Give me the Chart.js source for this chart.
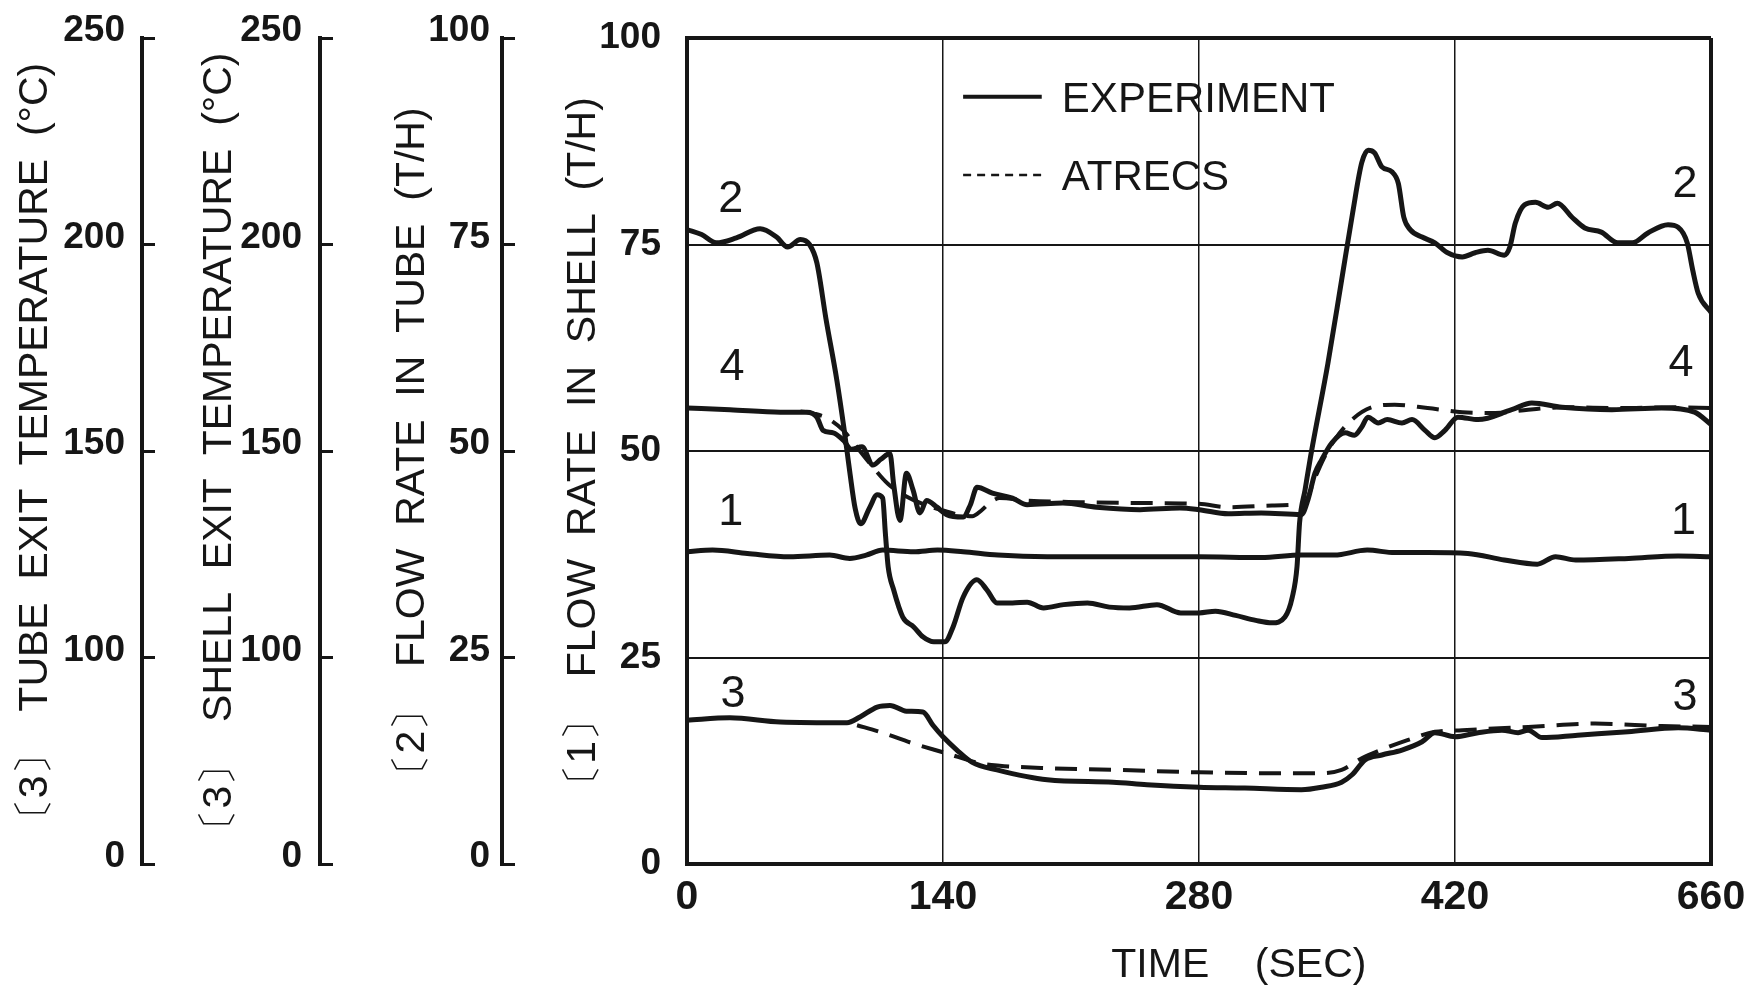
<!DOCTYPE html>
<html>
<head>
<meta charset="utf-8">
<title>Flow rate and exit temperature transient</title>
<script src="https://cdn.jsdelivr.net/npm/chart.js@4.4.0/dist/chart.umd.min.js"></script>
<style>
    body { margin: 0; background: #fff; }
    #wrap { width: 1762px; height: 993px; }
</style>
</head>
<body>
<div id="wrap"><canvas id="chart"></canvas></div>
<script>
/* =========================
   DATA  (time in axis units, values in axis position 0-100)
========================= */

const timeTicks = ["0", "140", "280", "420", "660"];
const flowTicks = ["0", "25", "50", "75", "100"];
const tempTicks = ["0", "100", "150", "200", "250"];

// 1 : flow rate in shell (experiment)
const shellFlowT = [0, 14, 33, 56, 78, 89, 98, 107, 124, 137, 151, 170, 197, 233, 280, 314, 336, 354, 372, 387, 405, 427, 447, 465, 475, 486, 515, 542, 560];
const shellFlow  = [37.8, 38, 37.6, 37.2, 37.4, 37, 37.4, 38, 37.8, 38, 37.8, 37.4, 37.2, 37.2, 37.2, 37.1, 37.4, 37.4, 38, 37.7, 37.7, 37.6, 36.8, 36.3, 37.2, 36.8, 37, 37.3, 37.2];

// 2 : flow rate in tube (experiment)
const tubeFlowT = [0, 8, 16, 27, 40, 49, 55, 62, 67, 71, 76, 82, 86, 89, 92, 95, 100, 104, 107, 108.5, 110, 113, 118, 124, 129, 135, 141, 145.5, 151, 158.5, 164, 169.5, 178, 186, 195, 206, 219, 231, 242, 257, 270, 280, 289, 300, 311, 320, 327, 331, 333.6, 335, 338, 341, 350.5, 358, 364, 369, 372.5, 376, 380, 385.5, 389, 392, 395.5, 402, 409, 416, 424, 431, 438, 447, 450, 453, 458, 464, 471, 476, 484, 491, 500, 509, 517, 525.5, 536.5, 542, 547, 550, 553, 560];
const tubeFlow  = [76.8, 76.2, 75.2, 75.8, 76.9, 75.9, 74.7, 75.6, 75, 72.8, 66, 58.5, 52.5, 47.5, 43, 41.2, 43.2, 44.7, 44.3, 40, 36, 33.2, 29.9, 28.7, 27.5, 26.9, 26.9, 28.7, 32.3, 34.4, 33.2, 31.6, 31.6, 31.7, 31, 31.4, 31.6, 31.1, 31, 31.4, 30.4, 30.4, 30.6, 30.1, 29.5, 29.2, 29.9, 32.3, 36, 41.3, 45.3, 49.3, 60.6, 70.7, 78.8, 84.9, 86.4, 86.1, 84.4, 83.8, 82.4, 78.3, 76.8, 75.9, 75.2, 74, 73.5, 74, 74.3, 73.7, 74.7, 77.6, 79.8, 80.1, 79.5, 80, 78.3, 77, 76.5, 75.2, 75.2, 76.4, 77.4, 77.1, 75.2, 71.9, 69.1, 66.8];

// 3 : tube exit temperature
const tubeTempT = [0, 23.5, 51, 87.5, 94.6, 104, 111, 120, 129, 134.5, 140, 147.6, 156, 169.5, 197, 233, 251.5, 280, 305, 336, 347, 358, 363.7, 370.8, 380, 391, 402, 409, 420, 432.6, 445.7, 454.5, 460, 467.6, 487, 514.6, 542, 560];
const tubeTemp  = [17.4, 17.7, 17.2, 17.1, 17.8, 19, 19.2, 18.5, 18.4, 16.8, 15.4, 13.8, 12.3, 11.4, 10.2, 9.9, 9.6, 9.3, 9.2, 9, 9.3, 9.9, 10.8, 12.6, 13.2, 13.8, 14.8, 15.9, 15.4, 15.9, 16.2, 15.9, 16.2, 15.3, 15.6, 16, 16.5, 16.2];
const tubeTempCalcT = [93, 105.5, 123.6, 142, 160, 171, 197, 233, 280, 314, 347, 358, 369, 381.7, 394, 409, 424, 460, 496.6, 533, 560];
const tubeTempCalc  = [16.8, 16, 14.6, 13.4, 12.2, 11.9, 11.6, 11.4, 11.1, 11, 11, 11.4, 12.8, 14, 15, 16, 16.2, 16.6, 17, 16.7, 16.6];

// 4 : shell exit temperature
const shellTempT = [0, 23.5, 51, 65.6, 71, 74.4, 80, 85.5, 90, 95.7, 101.7, 106, 111, 113, 116.5, 120, 123.6, 127.4, 131, 136.7, 142, 151, 155, 158.6, 167, 178, 186, 205.6, 224, 247.7, 269.6, 280, 296, 314, 336, 339.6, 343.4, 347, 352.7, 360, 365, 369, 372.4, 378, 383, 391, 396.5, 403.6, 409, 414.5, 421.6, 432.6, 451, 462, 478.5, 505.8, 533, 551, 560];
const shellTemp  = [55.2, 55, 54.7, 54.7, 54.1, 52.5, 52.2, 51.3, 50.2, 50.5, 48.3, 49, 49.7, 46, 41.6, 47.3, 45.3, 42.5, 44, 43.2, 42.3, 42, 43.5, 45.6, 44.9, 44.3, 43.5, 43.7, 43.2, 42.9, 43.1, 42.9, 42.4, 42.5, 42.3, 44.1, 47.3, 48.9, 51, 52.2, 51.9, 52.9, 54.1, 53.4, 53.8, 53.4, 53.8, 52.5, 51.6, 52.5, 54.1, 53.8, 55, 55.8, 55.3, 55, 55.2, 54.7, 53.2];
const shellTempCalcT = [62, 70, 76.5, 85.5, 91, 100, 110, 120, 130, 140, 150, 156, 161, 166, 171, 186, 215, 250, 280, 296, 320, 332.5, 338, 343, 348, 354, 363.7, 374.6, 387, 405, 424, 442, 460, 480, 510, 540, 560];
const shellTempCalc  = [54.8, 54.5, 54, 52.5, 51, 48.5, 46, 44.5, 43.5, 42.8, 42.2, 42.1, 42.8, 43.8, 44.3, 44, 43.8, 43.7, 43.6, 43.2, 43.4, 43.5, 43.8, 46.5, 49, 51.3, 53.8, 55.3, 55.6, 55.2, 54.7, 54.6, 55, 55.3, 55.2, 55.3, 55.2];

/* =========================
   STYLE
========================= */

const INK = "#161616";
const SANS = '"Liberation Sans", Arial, sans-serif';

function points(ts, vs) {
    return ts.map((t, i) => ({ x: t, y: vs[i] }));
}

function line(ts, vs, axis, dashed) {
    return {
        data: points(ts, vs),
        yAxisID: axis,
        borderColor: INK,
        borderWidth: dashed ? 4 : 5,
        borderDash: dashed ? [22, 12] : [],
        pointRadius: 0,
        fill: false,
        cubicInterpolationMode: "monotone"
    };
}

// fixed box width, and no extra label padding pushing the plot down
function fixWidth(w) {
    return s => {
        s.width = w;
        s.paddingTop = 0;
        s.paddingBottom = 0;
    };
}

function sideAxis(weight, width, title, titlePad, labelPad, labels) {
    return {
        position: "left",
        weight: weight,
        min: 0,
        max: 100,
        afterFit: fixWidth(width),
        ticks: {
            stepSize: 25,
            padding: labelPad,
            labelOffset: -7,
            color: INK,
            font: { family: SANS, size: 37, weight: "bold" },
            callback: (v, i) => labels[i]
        },
        grid: {
            drawOnChartArea: false,
            drawTicks: true,
            tickLength: -13,
            tickWidth: 3,
            tickColor: INK,
            lineWidth: 3,
            color: INK
        },
        border: { display: true, width: 4, color: INK },
        title: {
            display: true,
            text: title,
            color: INK,
            font: { family: SANS, size: 41 },
            padding: { top: titlePad, bottom: 0 }
        }
    };
}

/* =========================
   CURVE NUMBERS + LEGEND
========================= */

const curveLabels = [
    { text: "2", t: 24, v: 80.9 }, { text: "4", t: 24.6, v: 60.5 },
    { text: "1", t: 24, v: 43 },   { text: "3", t: 25.2, v: 20.9 },
    { text: "2", t: 545.8, v: 82.7 }, { text: "4", t: 543.6, v: 61 },
    { text: "1", t: 545, v: 41.9 },   { text: "3", t: 545.8, v: 20.6 }
];

const annotate = {
    id: "annotate",
    afterDatasetsDraw(chart) {
        const { ctx, scales: { x, y } } = chart;
        ctx.save();
        ctx.fillStyle = INK;
        ctx.strokeStyle = INK;
        ctx.textAlign = "center";
        ctx.textBaseline = "alphabetic";
        ctx.font = "45px " + SANS;
        curveLabels.forEach(l => {
            ctx.fillText(l.text, x.getPixelForValue(l.t), y.getPixelForValue(l.v) + 16);
        });

        // legend
        const x1 = x.getPixelForValue(151), x2 = x.getPixelForValue(194), tx = x.getPixelForValue(205);
        const yA = y.getPixelForValue(92.9), yB = y.getPixelForValue(83.4);
        ctx.lineWidth = 4;
        ctx.beginPath(); ctx.moveTo(x1, yA); ctx.lineTo(x2, yA); ctx.stroke();
        ctx.lineWidth = 2.5;
        ctx.setLineDash([8, 6]);
        ctx.beginPath(); ctx.moveTo(x1, yB); ctx.lineTo(x2, yB); ctx.stroke();
        ctx.setLineDash([]);
        ctx.textAlign = "left";
        ctx.font = "42px " + SANS;
        ctx.fillText("EXPERIMENT", tx, yA + 15);
        ctx.fillText("ATRECS", tx, yB + 15);
        ctx.restore();
    }
};

/* =========================
   CHART
========================= */

new Chart(document.getElementById("chart"), {
    type: "line",
    data: {
        datasets: [
            line(shellFlowT, shellFlow, "y", false),
            line(tubeFlowT, tubeFlow, "yTubeFlow", false),
            line(tubeTempT, tubeTemp, "yTubeTemp", false),
            line(tubeTempCalcT, tubeTempCalc, "yTubeTemp", true),
            line(shellTempT, shellTemp, "yShellTemp", false),
            line(shellTempCalcT, shellTempCalc, "yShellTemp", true)
        ]
    },
    options: {
        responsive: true,
        maintainAspectRatio: false,
        animation: false,
        layout: { padding: { top: 38, right: 51, bottom: 0, left: 0 } },
        plugins: { legend: { display: false }, tooltip: { enabled: false } },
        scales: {
            x: {
                type: "linear",
                min: 0,
                max: 560,
                afterFit: s => { s.height = 129; s.paddingLeft = 0; s.paddingRight = 0; },
                ticks: {
                    stepSize: 140,
                    padding: 9,
                    autoSkip: false,
                    maxRotation: 0,
                    color: INK,
                    font: { family: SANS, size: 41, weight: "bold" },
                    callback: (v, i) => timeTicks[i]
                },
                grid: {
                    drawTicks: false,
                    color: INK,
                    lineWidth: c => (c.tick && (c.tick.value === 0 || c.tick.value === 560)) ? 4 : 1.5
                },
                border: { display: true, width: 4, color: INK },
                title: {
                    display: true,
                    text: "       TIME    (SEC)",
                    color: INK,
                    font: { family: SANS, size: 41 },
                    padding: { top: 0, bottom: 3 }
                }
            },
            y: {
                position: "left",
                weight: 0,
                min: 0,
                max: 100,
                afterFit: fixWidth(185),
                ticks: {
                    stepSize: 25,
                    padding: 26,
                    color: INK,
                    font: { family: SANS, size: 37, weight: "bold" },
                    callback: (v, i) => flowTicks[i]
                },
                grid: {
                    drawTicks: false,
                    color: INK,
                    lineWidth: c => (c.tick && (c.tick.value === 0 || c.tick.value === 100)) ? 4 : 2
                },
                border: { display: true, width: 4, color: INK },
                title: {
                    display: true,
                    text: "〔1〕  FLOW  RATE  IN  SHELL  (T/H)",
                    color: INK,
                    font: { family: SANS, size: 41 },
                    padding: { top: 57, bottom: 0 }
                }
            },
            yTubeFlow: sideAxis(1, 182, "〔2〕  FLOW  RATE  IN  TUBE  (T/H)", 68, 25, flowTicks),
            yShellTemp: sideAxis(2, 178, "〔3〕  SHELL  EXIT  TEMPERATURE  (°C)", 53, 31, tempTicks),
            yTubeTemp: sideAxis(3, 142, "〔3〕  TUBE  EXIT  TEMPERATURE  (°C)", 11, 30, tempTicks)
        }
    },
    plugins: [annotate]
});
</script>
</body>
</html>
